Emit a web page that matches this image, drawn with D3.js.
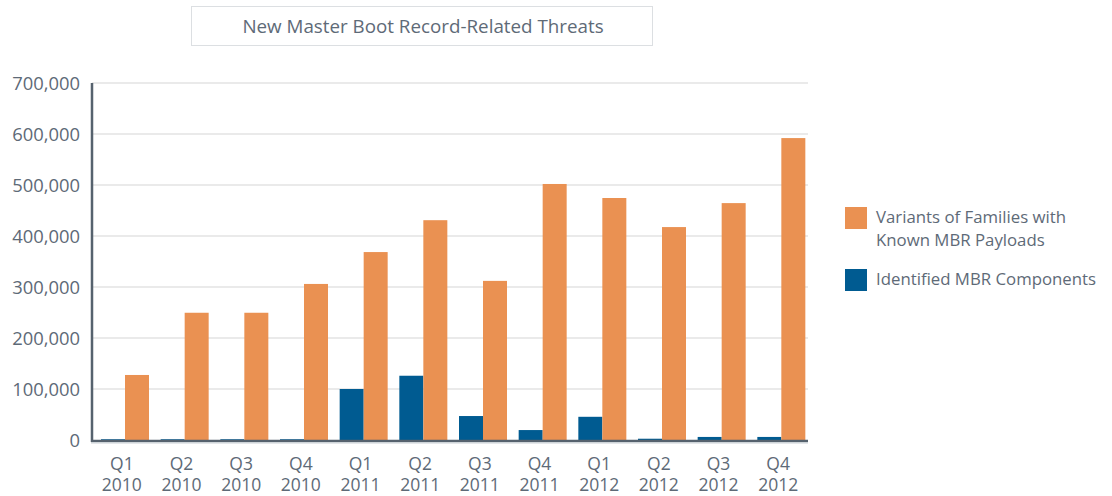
<!DOCTYPE html>
<html>
<head>
<meta charset="utf-8">
<script src="https://cdn.jsdelivr.net/npm/d3@7"></script>
<style>
  html, body { margin: 0; padding: 0; background: #fff; }
  svg { display: block; font-family: "Open Sans", "Noto Sans", sans-serif; }
</style>
</head>
<body>
<svg id="chart" width="1112" height="496"></svg>
<script>
// Quarterly counts of new MBR-related threats
const quarters = ["Q1", "Q2", "Q3", "Q4", "Q1", "Q2", "Q3", "Q4", "Q1", "Q2", "Q3", "Q4"];
const years = ["2010", "2010", "2010", "2010", "2011", "2011", "2011", "2011", "2012", "2012", "2012", "2012"];
const seriesNames = ["Identified MBR Components", "Variants of Families with Known MBR Payloads"];
const identifiedComponents = [1500, 1500, 1500, 1500, 100000, 126000, 47000, 19500, 45500, 2500, 6000, 6000];
const familyVariants = [127500, 249500, 249500, 306000, 368500, 431000, 312000, 502000, 474500, 417500, 464500, 592000];
const yTicks = [0, 100000, 200000, 300000, 400000, 500000, 600000, 700000];
const legendLines = [["Variants of Families with", "Known MBR Payloads"], ["Identified MBR Components"]];

const colors = { components: "#005B91", variants: "#EA9152" };
const textColor = "#5E6A77";

const svg = d3.select("#chart");
const plot = { left: 92, right: 808, top: 83, bottom: 440 };

const groups = d3.range(quarters.length);
const x0 = d3.scaleBand().domain(groups).range([plot.left, plot.right]).padding(0);
const x1 = d3.scaleBand().domain(seriesNames).range([9, 57]).padding(0);
const y = d3.scaleLinear().domain([0, 700000]).range([plot.bottom, plot.top]);

// Title box
svg.append("rect")
  .attr("x", 191.5).attr("y", 6.5).attr("width", 461).attr("height", 39)
  .attr("fill", "#fff").attr("stroke", "#dcdfe2").attr("stroke-width", 1);
svg.append("text")
  .attr("x", 423).attr("y", 33)
  .attr("text-anchor", "middle")
  .attr("font-size", 18.8).attr("fill", textColor)
  .text("New Master Boot Record-Related Threats");

// Horizontal gridlines
svg.append("g").selectAll("line")
  .data(yTicks.filter(d => d > 0))
  .join("line")
  .attr("x1", plot.left).attr("x2", plot.right)
  .attr("y1", d => y(d)).attr("y2", d => y(d))
  .attr("stroke", "#e3e3e3").attr("stroke-width", 1.5);

// Y axis labels
const yAxis = d3.axisLeft(y).tickValues(yTicks).tickSize(0).tickPadding(12)
  .tickFormat(d3.format(","));
const yg = svg.append("g").attr("transform", `translate(${plot.left},0)`).call(yAxis);
yg.select(".domain").remove();
yg.selectAll("text").attr("font-size", 18.4).attr("fill", textColor)
  .attr("font-family", "'Open Sans', sans-serif").attr("dy", "0.36em");

// Bars
const rows = groups.map(i => ({ i, values: [
  { key: seriesNames[0], value: identifiedComponents[i], color: colors.components },
  { key: seriesNames[1], value: familyVariants[i], color: colors.variants }
]}));

const g = svg.append("g").selectAll("g")
  .data(rows)
  .join("g")
  .attr("transform", d => `translate(${x0(d.i)},0)`);

g.selectAll("rect")
  .data(d => d.values)
  .join("rect")
  .attr("x", d => x1(d.key))
  .attr("width", x1.bandwidth())
  .attr("y", d => y(d.value))
  .attr("height", d => y(0) - y(d.value))
  .attr("fill", d => d.color);

// Axis lines
svg.append("line")
  .attr("x1", plot.left).attr("x2", plot.left)
  .attr("y1", plot.top).attr("y2", plot.bottom + 2)
  .attr("stroke", "#56626E").attr("stroke-width", 2.5);
svg.append("line")
  .attr("x1", plot.left - 1).attr("x2", plot.right)
  .attr("y1", plot.bottom + 1).attr("y2", plot.bottom + 1)
  .attr("stroke", "#56626E").attr("stroke-width", 2.5);
svg.append("line")
  .attr("x1", plot.left - 1).attr("x2", plot.right)
  .attr("y1", plot.bottom + 3).attr("y2", plot.bottom + 3)
  .attr("stroke", "#c9d0d6").attr("stroke-width", 1);

// X axis labels (quarter / year)
const xg = svg.append("g");
groups.forEach(i => {
  const cx = x0(i) + x0.bandwidth() / 2;
  const t = xg.append("text")
    .attr("x", cx).attr("text-anchor", "middle")
    .attr("font-size", 17.5).attr("fill", textColor);
  t.append("tspan").attr("x", cx).attr("y", 470).text(quarters[i]);
  t.append("tspan").attr("x", cx).attr("y", 491).text(years[i]);
});

// Legend
const legend = svg.append("g").attr("transform", "translate(845,0)");
const legendItems = [
  { lines: legendLines[0], color: colors.variants, top: 207 },
  { lines: legendLines[1], color: colors.components, top: 269 }
];
legendItems.forEach(item => {
  legend.append("rect")
    .attr("x", 0).attr("y", item.top).attr("width", 22).attr("height", 22)
    .attr("fill", item.color);
  const t = legend.append("text")
    .attr("font-size", 16.8).attr("fill", textColor);
  item.lines.forEach((line, k) => {
    t.append("tspan").attr("x", 31).attr("y", item.top + 16 + k * 22.5).text(line);
  });
});
</script>
</body>
</html>
